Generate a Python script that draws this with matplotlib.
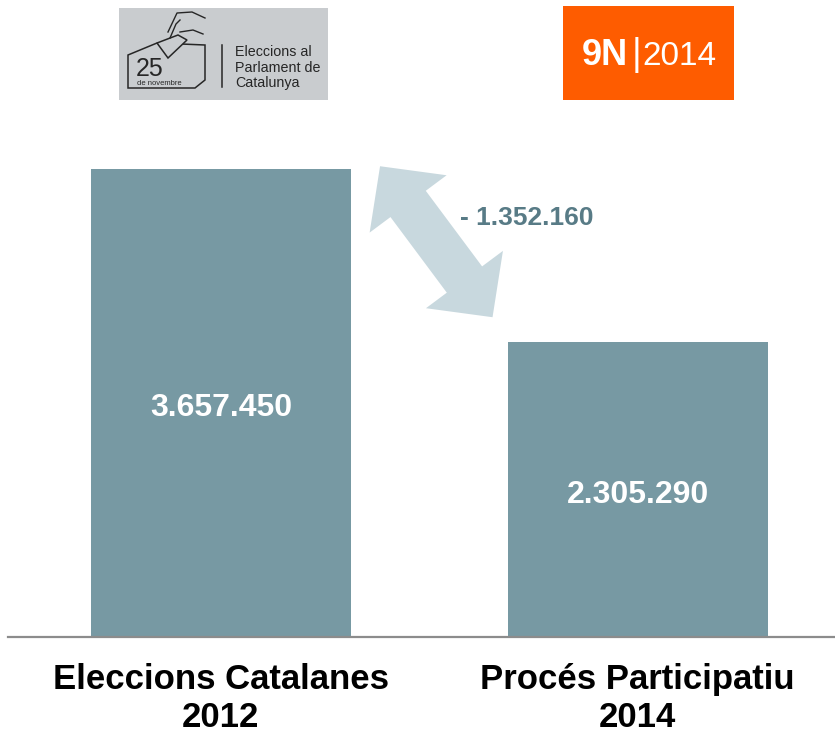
import numpy as np
import matplotlib
matplotlib.use('Agg')
import matplotlib.pyplot as plt
from matplotlib.patches import Rectangle, Polygon
from matplotlib.transforms import offset_copy

categories = ['Eleccions Catalanes\n2012', 'Procés Participatiu\n2014']
values = [3657450, 2305290]

W, H = 835, 732
BAR = '#7799a3'
ARROW = '#c8d8de'


def fmt(v):
    return f"{abs(v):,}".replace(',', '.')


def double_arrow(a, b, shaft=22, head=48, hlen=47):
    a, b = np.asarray(a, float), np.asarray(b, float)
    u = (b - a) / np.linalg.norm(b - a)
    n = np.array([-u[1], u[0]])
    return [a, a + hlen * u + head * n, a + hlen * u + shaft * n,
            b - hlen * u + shaft * n, b - hlen * u + head * n, b,
            b - hlen * u - head * n, b - hlen * u - shaft * n,
            a + hlen * u - shaft * n, a + hlen * u - head * n]


fig = plt.figure(figsize=(W / 100, H / 100), dpi=100)
plt.rcParams['font.family'] = ['Liberation Sans', 'DejaVu Sans']

# main bar axes
ax = fig.add_axes([8 / W, (H - 637) / H, 1 - 8 / W, 486 / H])
x = np.arange(len(values))
width = 0.624
ax.bar(x, values, width=width, color=BAR, zorder=2)
ax.set_xlim(-0.511, 1.474)
ax.set_ylim(0, 3.8e6)
for s in ['top', 'right', 'left']:
    ax.spines[s].set_visible(False)
ax.spines['bottom'].set_color('#8c8c8c')
ax.spines['bottom'].set_linewidth(1.6)
ax.set_yticks([])
ax.set_xticks(x, categories, fontsize=25, fontweight='bold', linespacing=1.16)
ax.tick_params(axis='x', length=0, pad=19)

down = offset_copy(ax.transData, fig=fig, y=-3.6, units='points')
for xi, v in zip(x, values):
    ax.text(xi, v / 2, fmt(v), ha='center', va='center', color='white',
            fontsize=23, fontweight='bold', transform=down)

diff = values[1] - values[0]
ax.text(0.735, 3.28e6, '- ' + fmt(diff), ha='center', va='center',
        color='#587b86', fontsize=19, fontweight='bold')

# overlay in pixel coordinates for arrow and logos
ov = fig.add_axes([0, 0, 1, 1])
ov.set_xlim(0, W)
ov.set_ylim(H, 0)
ov.axis('off')
ov.patch.set_visible(False)

p0 = ax.transData.transform((x[0] + width / 2 + 0.07, values[0]))
p1 = ax.transData.transform((x[1] - width / 2 - 0.036, values[1] + 1.95e5))
p0 = (p0[0], H - p0[1] - 3)
p1 = (p1[0], H - p1[1])
ov.add_patch(Polygon(double_arrow(p0, p1), closed=True, color=ARROW, lw=0))

# left logo
ov.add_patch(Rectangle((119, 8), 209, 92, color='#c9cccf', lw=0))
ink = '#262626'
ov.add_patch(Polygon([(128, 55), (157, 43), (205, 45), (205, 80), (195, 88), (128, 88)],
                     closed=True, fill=False, ec=ink, lw=1.1))
ov.add_patch(Polygon([(157, 43), (168, 58), (187, 40), (178, 35)],
                     closed=True, fc='#c9cccf', ec=ink, lw=1.1))
ov.plot([168, 177, 192, 205], [32, 13, 12, 18], color=ink, lw=1.0)
ov.plot([180, 193, 203], [32, 30, 34], color=ink, lw=1.0)
ov.plot([170, 176, 180], [38, 24, 20], color=ink, lw=1.0)
ov.text(136, 76, '25', fontsize=18, color=ink, va='baseline')
ov.text(137, 85, 'de novembre', fontsize=5.5, color=ink, va='baseline')
ov.plot([222, 222], [45, 87], color=ink, lw=1.1)
for i, line in enumerate(['Eleccions al', 'Parlament de', 'Catalunya']):
    ov.text(235, 52 + i * 15.5, line, fontsize=10.3, color=ink, va='center')

# right logo
ov.add_patch(Rectangle((563, 6), 171, 94, color='#fe5c00', lw=0))
ov.text(582, 65, '9N', fontsize=26, color='white', fontweight='bold',
        va='baseline')
ov.text(632, 65, '|', fontsize=27, color='white', va='baseline')
ov.text(642, 65, '2014', fontsize=24, color='white', va='baseline')

fig.savefig('out.png', dpi=100)
